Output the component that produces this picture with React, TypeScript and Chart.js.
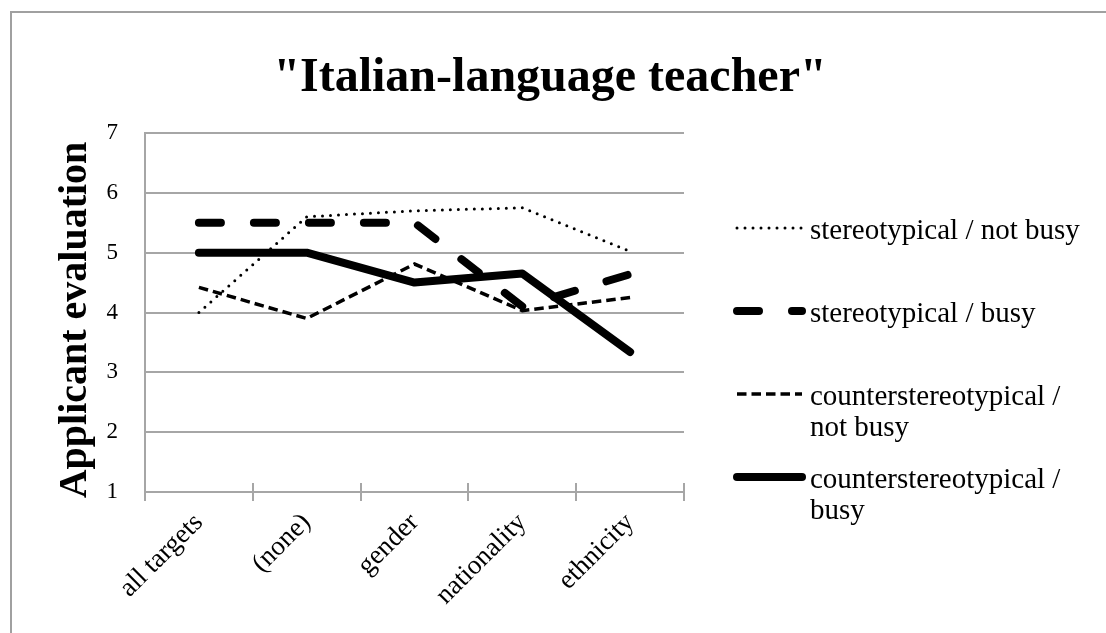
import { useEffect, useRef } from 'react';
import { Chart, registerables } from 'chart.js';

Chart.register(...registerables);

// Categories along the x axis
const categories = ['all targets', '(none)', 'gender', 'nationality', 'ethnicity'];

// Mean applicant evaluation per condition
const stereoNotBusy = [4.0, 5.6, 5.7, 5.75, 5.02];
const stereoBusy = [5.5, 5.5, 5.5, 4.1, 4.64];
const counterNotBusy = [4.42, 3.9, 4.81, 4.03, 4.25];
const counterBusy = [5.0, 5.0, 4.5, 4.65, 3.34];

const seriesNames = [
  'stereotypical / not busy',
  'stereotypical / busy',
  'counterstereotypical / not busy',
  'counterstereotypical / busy',
];

// Legend text, wrapped the way it is shown beside the plot
const legendLines = [
  ['stereotypical / not busy'],
  ['stereotypical / busy'],
  ['counterstereotypical /', 'not busy'],
  ['counterstereotypical /', 'busy'],
];

const yTicks = [1, 2, 3, 4, 5, 6, 7];

const chartTitle = '"Italian-language teacher"';
const yAxisTitle = 'Applicant evaluation';

const GRID = '#a6a6a6';
const SERIF = "'Liberation Serif', 'Times New Roman', serif";

// White background plus the outer chart frame
const framePlugin = {
  id: 'frame',
  beforeDraw(chart: any) {
    const { ctx, width, height } = chart;
    ctx.save();
    ctx.fillStyle = '#ffffff';
    ctx.fillRect(0, 0, width, height);
    ctx.strokeStyle = '#a0a0a0';
    ctx.lineWidth = 2;
    ctx.strokeRect(11, 12, width + 50, height + 50);
    ctx.restore();
  },
};

// Chart title centred on the whole canvas, y-axis title beside the ticks
const titlesPlugin = {
  id: 'titles',
  afterDraw(chart: any) {
    const { ctx, width } = chart;
    ctx.save();
    ctx.fillStyle = '#000';
    ctx.textAlign = 'center';
    ctx.textBaseline = 'middle';
    ctx.font = `bold 48px ${SERIF}`;
    ctx.fillText(chartTitle, width / 2 - 3, 79);
    ctx.translate(76, 320);
    ctx.rotate(-Math.PI / 2);
    ctx.font = `bold 40px ${SERIF}`;
    ctx.fillText(yAxisTitle, 0, 0);
    ctx.restore();
  },
};

// Category-boundary tick marks cross the x axis (upper half drawn here)
const crossTickPlugin = {
  id: 'crossTicks',
  afterDraw(chart: any) {
    const { ctx } = chart;
    const xs = chart.scales.x;
    const bottom = chart.chartArea.bottom;
    ctx.save();
    ctx.strokeStyle = GRID;
    ctx.lineWidth = 2;
    ctx.beginPath();
    for (let i = 0; i <= categories.length; i++) {
      const x = Math.round(xs.getPixelForValue(i - 0.5));
      ctx.moveTo(x, bottom - 9);
      ctx.lineTo(x, bottom);
    }
    ctx.stroke();
    ctx.restore();
  },
};

// Legend on the right with multi-line entries
const sideLegendPlugin = {
  id: 'sideLegend',
  afterDraw(chart: any) {
    const { ctx } = chart;
    const right = chart.chartArea.right;
    const sampleY = [228, 311, 394, 477];
    chart.data.datasets.forEach((ds: any, i: number) => {
      const y = sampleY[i];
      ctx.save();
      ctx.strokeStyle = ds.borderColor;
      ctx.lineWidth = ds.borderWidth;
      ctx.lineCap = ds.borderCapStyle || 'butt';
      ctx.setLineDash(ds.borderDash || []);
      ctx.beginPath();
      ctx.moveTo(right + 53, y);
      ctx.lineTo(right + 118, y);
      ctx.stroke();
      ctx.restore();

      ctx.save();
      ctx.fillStyle = '#000';
      ctx.font = `29px ${SERIF}`;
      ctx.textAlign = 'left';
      ctx.textBaseline = 'middle';
      legendLines[i].forEach((line, j) => {
        ctx.fillText(line, right + 126, y + 3 + j * 31);
      });
      ctx.restore();
    });
  },
};

export default function App() {
  const canvasRef = useRef<HTMLCanvasElement>(null);

  useEffect(() => {
    const canvas = canvasRef.current;
    if (!canvas) return;
    const chart = new Chart(canvas, {
      type: 'line',
      data: {
        labels: categories,
        datasets: [
          {
            label: seriesNames[0],
            data: stereoNotBusy,
            borderColor: '#000',
            borderWidth: 3,
            borderDash: [0, 8],
            borderCapStyle: 'round',
            borderJoinStyle: 'round',
            pointRadius: 0,
            tension: 0,
          },
          {
            label: seriesNames[1],
            data: stereoBusy,
            borderColor: '#000',
            borderWidth: 8,
            borderDash: [22, 33],
            borderCapStyle: 'round',
            borderJoinStyle: 'round',
            pointRadius: 0,
            tension: 0,
          },
          {
            label: seriesNames[2],
            data: counterNotBusy,
            borderColor: '#000',
            borderWidth: 3.5,
            borderDash: [9.5, 5],
            borderCapStyle: 'butt',
            borderJoinStyle: 'miter',
            pointRadius: 0,
            tension: 0,
          },
          {
            label: seriesNames[3],
            data: counterBusy,
            borderColor: '#000',
            borderWidth: 8,
            borderCapStyle: 'round',
            borderJoinStyle: 'round',
            pointRadius: 0,
            tension: 0,
          },
        ] as any,
      },
      options: {
        responsive: false,
        animation: false,
        devicePixelRatio: 1,
        layout: { padding: { left: 0, right: 422, top: 133, bottom: 0 } },
        plugins: {
          legend: { display: false },
          tooltip: { enabled: false },
          title: { display: false },
        },
        scales: {
          x: {
            offset: true,
            grid: {
              display: true,
              offset: true,
              drawOnChartArea: false,
              drawTicks: true,
              tickLength: 9,
              color: GRID,
              lineWidth: 2,
            },
            border: { display: true, color: GRID, width: 2 },
            ticks: {
              autoSkip: false,
              minRotation: 45,
              maxRotation: 45,
              padding: 6,
              color: '#000',
              font: { family: SERIF, size: 27 },
            },
            afterFit: (scale: any) => {
              scale.height = 141;
            },
          },
          y: {
            min: 1,
            max: 7,
            afterBuildTicks: (scale: any) => {
              scale.ticks = yTicks.map((v) => ({ value: v }));
            },
            grid: { color: GRID, lineWidth: 2, drawTicks: false },
            border: { display: true, color: GRID, width: 2 },
            ticks: {
              padding: 27,
              color: '#000',
              font: { family: SERIF, size: 23 },
            },
            afterFit: (scale: any) => {
              scale.width = 145;
            },
          },
        },
      } as any,
      plugins: [framePlugin, crossTickPlugin, sideLegendPlugin, titlesPlugin],
    });
    return () => chart.destroy();
  }, []);

  return (
    <div style={{ position: 'fixed', left: 0, top: 0, width: 1106, height: 633 }}>
      <canvas ref={canvasRef} width={1106} height={633} style={{ display: 'block' }} />
    </div>
  );
}
